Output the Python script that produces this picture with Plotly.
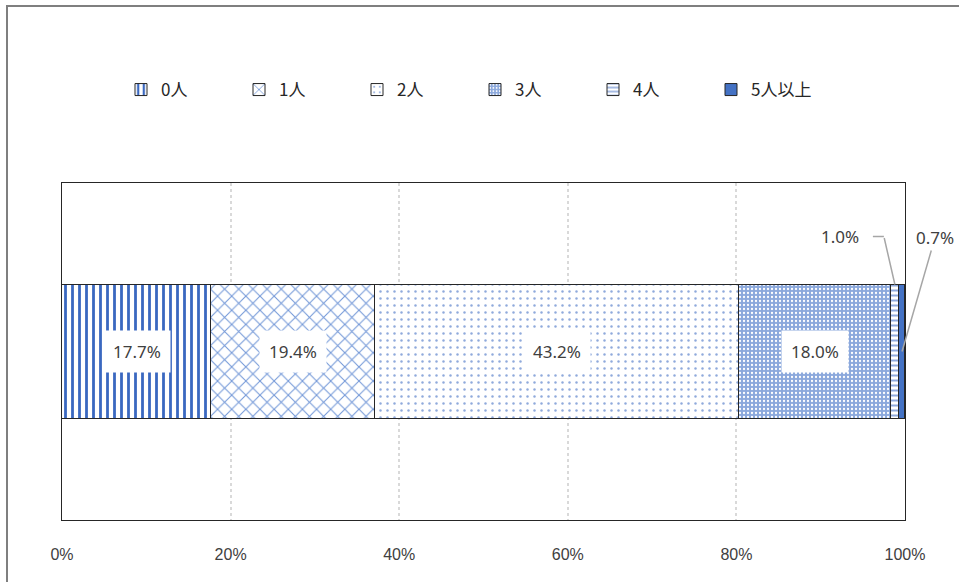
import plotly.graph_objects as go

categories = ["0人", "1人", "2人", "3人", "4人", "5人以上"]
values = [17.7, 19.4, 43.2, 18.0, 1.0, 0.7]
labels = ["17.7%", "19.4%", "43.2%", "18.0%", "1.0%", "0.7%"]
tick_vals = [0, 20, 40, 60, 80, 100]
tick_text = ["0%", "20%", "40%", "60%", "80%", "100%"]

patterns = [
    dict(shape="|", fgcolor="#3a68c0", bgcolor="white", size=7, solidity=0.4, fgopacity=1),
    dict(shape="x", fgcolor="#7398d8", bgcolor="white", size=10, solidity=0.2, fgopacity=1),
    dict(shape=".", fgcolor="#8faadc", bgcolor="white", size=7, solidity=0.1, fgopacity=1),
    dict(shape=".", fgcolor="white", bgcolor="#8ba8dc", size=4, solidity=0.25, fgopacity=1),
    dict(shape="-", fgcolor="#8faadc", bgcolor="white", size=5, solidity=0.4, fgopacity=1),
    None,
]
solid = ["white", "white", "white", "white", "white", "#4472c4"]

W, H = 959, 582
L, R, T, B = 62, 54, 183, 62
pw, ph = W - L - R, H - T - B
yr = 1.2575
px_per_x = pw / 100.0

fig = go.Figure()
for i, c in enumerate(categories):
    m = dict(color=solid[i], line=dict(color="#262626", width=1))
    if patterns[i] is not None:
        m["pattern"] = patterns[i]
    fig.add_trace(go.Bar(
        x=[values[i]], y=[0], name=c, orientation="h", width=1.0,
        marker=m, hoverinfo="skip",
    ))

lab_font = dict(family="Noto Sans", size=17, color="#404040")

cum = 0
for i, v in enumerate(values):
    center = cum + v / 2
    cum += v
    if i < 4:
        fig.add_annotation(x=center, y=0, xref="x", yref="y", text=labels[i],
                           showarrow=False, bgcolor="white", borderpad=9, font=lab_font)

c4 = sum(values[:4]) + values[4] / 2
c5 = sum(values[:5]) + values[5] / 2
bar_top = 0.5
fig.add_annotation(x=c4, y=bar_top, xref="x", yref="y", text=labels[4],
                   showarrow=False, xshift=-55, yshift=48, font=lab_font)
fig.add_annotation(x=c4, y=bar_top, xref="x", yref="y", text="",
                   showarrow=True, arrowhead=0, arrowwidth=1.5, arrowcolor="#a6a6a6",
                   axref="pixel", ayref="pixel", ax=-11, ay=-48, standoff=0)
y_lab = bar_top + 48 / ph * (2 * yr)
fig.add_shape(type="line", xref="x", yref="y",
              x0=c4 - 22 / px_per_x, x1=c4 - 11 / px_per_x, y0=y_lab, y1=y_lab,
              line=dict(color="#a6a6a6", width=1.5))
fig.add_annotation(x=c5, y=0.0, xref="x", yref="y", text=labels[5],
                   showarrow=True, arrowhead=0, arrowwidth=1.5, arrowcolor="#a6a6a6",
                   axref="pixel", ayref="pixel", ax=33, ay=-114, standoff=0, font=lab_font)

fig.add_shape(type="rect", xref="paper", yref="paper",
              x0=(7 - L) / pw, x1=(975 - L) / pw,
              y0=(ph + T - 600) / ph, y1=(ph + T - 6) / ph,
              line=dict(color="#7f7f7f", width=2), layer="below")

fig.update_layout(
    width=W, height=H,
    margin=dict(l=L, r=R, t=T, b=B),
    paper_bgcolor="white", plot_bgcolor="white",
    barmode="stack", bargap=0,
    showlegend=True,
    legend=dict(orientation="h", x=(121 - L) / pw, xanchor="left",
                y=(ph + T - 90) / ph, yanchor="middle",
                entrywidth=73, entrywidthmode="pixels",
                itemwidth=30, traceorder="normal",
                font=dict(family="Noto Sans CJK JP", size=17, color="#262626")),
    xaxis=dict(range=[0, 100], tickvals=tick_vals, ticktext=tick_text,
               showgrid=True, gridcolor="#d9d9d9", griddash="dot", gridwidth=1.5,
               zeroline=False, showline=True, linecolor="#262626", linewidth=1,
               mirror=True, ticks="", ticklen=0, ticklabelstandoff=20,
               tickfont=dict(family="Liberation Sans Narrow, Liberation Sans", size=16, color="#404040")),
    yaxis=dict(range=[-yr, yr], showticklabels=False, showgrid=False, zeroline=False,
               showline=True, linecolor="#262626", linewidth=1, mirror=True),
)

fig.write_html("out.html", config={"displayModeBar": False},
               post_script="document.body.style.margin='0px';document.body.style.overflow='hidden';")
